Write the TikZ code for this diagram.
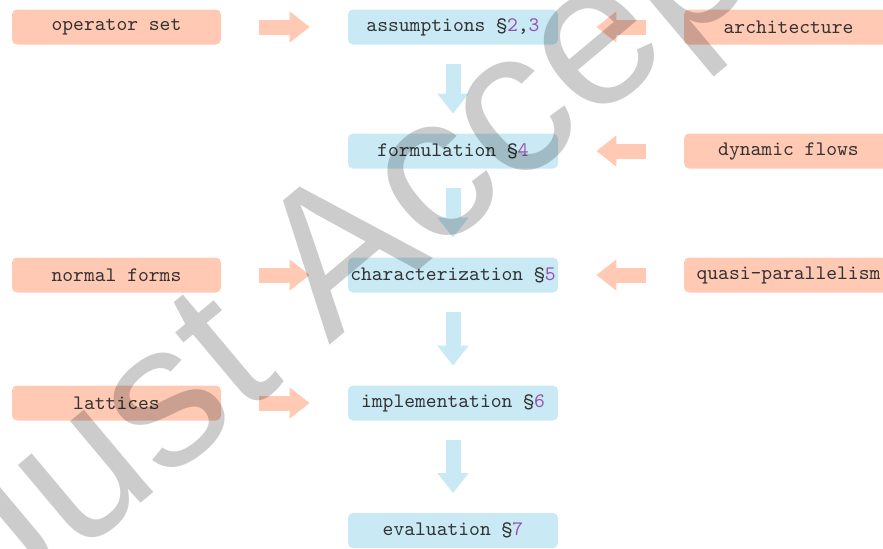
\documentclass[tikz,border=0pt]{standalone}
\usepackage{fontspec}
\setmainfont{Liberation Serif}
\newfontfamily\wmfont{Liberation Sans}
\usepackage{xcolor}
\usetikzlibrary{arrows.meta}
\definecolor{srcfill}{RGB}{255,201,180}
\definecolor{secfill}{RGB}{201,234,245}
\definecolor{boxtext}{RGB}{50,50,50}
\definecolor{secref}{RGB}{150,82,176}
\newcommand{\secno}[1]{\textcolor{secref}{#1}}

\begin{document}
\begin{tikzpicture}[x=0.5pt, y=-0.5pt,
  box/.style={rounded corners=2.5pt, minimum width=104.5pt, minimum height=17.5pt,
              inner sep=0, font=\ttfamily\fontsize{10.3}{12}\selectfont, text=boxtext},
  src/.style={box, fill=srcfill},
  sec/.style={box, fill=secfill, minimum width=105pt},
  feed/.style={draw=srcfill, line width=7.5pt, shorten <=19pt, shorten >=19pt,
               -{Triangle[width=15pt, length=10pt]}},
  flow/.style={feed, draw=secfill, shorten <=9.75pt, shorten >=9.75pt},
  wmark/.style={font=\wmfont\fontsize{102}{102}\selectfont, text=black, text opacity=0.2},
]
\useasboundingbox (0,0) rectangle (883,548);
\clip (0,0) rectangle (883,548);
% main line: the sections, top to bottom
\node[sec] (assum)  at (453,27)    {assumptions \S\secno{2},\secno{3}};
\node[sec] (form)   at (453,151)   {formulation \S\secno{4}};
\node[sec] (charac) at (453,275)   {characterization \S\secno{5}};
\node[sec] (impl)   at (453,403)   {implementation \S\secno{6}};
\node[sec] (eval)   at (453,530.5) {evaluation \S\secno{7}};
% inputs on the left
\node[src] (opset)  at (116.5,27)  {operator set};
\node[src] (normal) at (116.5,275) {normal forms};
\node[src] (latt)   at (116.5,403) {lattices};
% inputs on the right (cut by the page edge)
\node[src] (arch)   at (788.5,27)  {architecture};
\node[src] (dyn)    at (788.5,151) {dynamic flows};
\node[src] (quasi)  at (788.5,275) {quasi-parallelism};
% side arrows into the main line
\foreach \a/\b in {opset/assum, normal/charac, latt/impl, arch/assum, dyn/form, quasi/charac}
  \draw[feed] (\a) -- (\b);
% down the main line
\foreach \a/\b in {assum/form, form/charac, charac/impl, impl/eval}
  \draw[flow] (\a) -- (\b);
% stamp over everything
\node[wmark, rotate=40, anchor=base] (stamp) at (490,210) {Just Accepted};
\end{tikzpicture}
\end{document}
